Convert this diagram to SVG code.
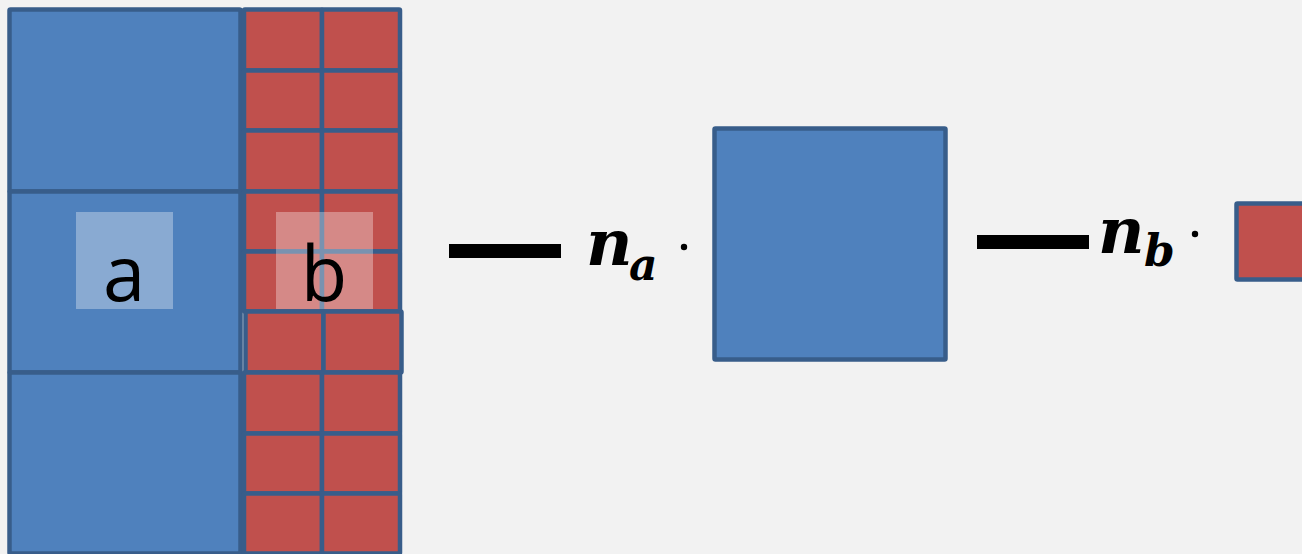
<svg xmlns="http://www.w3.org/2000/svg" width="1302" height="554" viewBox="0 0 1302 554">
<style>
.blue{fill:#4F81BD;stroke:#385D8A;stroke-width:4.5}
.red{fill:#C0504D;stroke:#385D8A;stroke-width:4.5}
.hl{fill:#FFFFFF;fill-opacity:0.33}
.lbl{font-family:"Open Sans","Liberation Sans",sans-serif;font-size:76px;fill:#000;text-anchor:middle}
.m{font-family:"DejaVu Serif","Liberation Serif",serif;font-weight:bold;font-style:italic;fill:#000}
.bar{fill:#000}
</style>
<rect width="1302" height="554" fill="#F2F2F2"/>
<g id="blue-column">
<rect class="blue" x="9.5" y="9.5" width="231" height="182" rx="1"/>
<rect class="blue" x="9.5" y="191.5" width="231" height="181" rx="1"/>
<rect class="blue" x="9.5" y="372.5" width="231" height="181" rx="1"/>
</g>
<g id="red-column">
<rect class="red" x="244" y="9.5" width="78" height="61" rx="1"/>
<rect class="red" x="322" y="9.5" width="78" height="61" rx="1"/>
<rect class="red" x="244" y="70.5" width="78" height="60" rx="1"/>
<rect class="red" x="322" y="70.5" width="78" height="60" rx="1"/>
<rect class="red" x="244" y="130.5" width="78" height="61" rx="1"/>
<rect class="red" x="322" y="130.5" width="78" height="61" rx="1"/>
<rect class="red" x="244" y="191.5" width="78" height="60" rx="1"/>
<rect class="red" x="322" y="191.5" width="78" height="60" rx="1"/>
<rect class="red" x="244" y="251.5" width="78" height="60" rx="1"/>
<rect class="red" x="322" y="251.5" width="78" height="60" rx="1"/>
<rect class="red" x="245.5" y="311.5" width="78" height="61" rx="1"/>
<rect class="red" x="323.5" y="311.5" width="78" height="61" rx="1"/>
<rect class="red" x="244" y="372.5" width="78" height="61" rx="1"/>
<rect class="red" x="322" y="372.5" width="78" height="61" rx="1"/>
<rect class="red" x="244" y="433.5" width="78" height="60" rx="1"/>
<rect class="red" x="322" y="433.5" width="78" height="60" rx="1"/>
<rect class="red" x="244" y="493.5" width="78" height="60" rx="1"/>
<rect class="red" x="322" y="493.5" width="78" height="60" rx="1"/>
</g>
<g id="label-a">
<rect class="hl" x="76" y="212" width="97" height="97"/>
<text class="lbl" x="124" y="301">a</text>
</g>
<g id="label-b">
<rect class="hl" x="276" y="212" width="97" height="97"/>
<text class="lbl" x="324" y="301">b</text>
</g>
<g id="connectors">
<rect class="bar" x="449" y="244" width="112" height="14"/>
<rect class="bar" x="977" y="235" width="112" height="14"/>
</g>
<g id="term-a">
<text class="m" x="586" y="265" font-size="64">n</text>
<text class="m" x="629" y="280" font-size="44">a</text>
<circle cx="684" cy="247" r="3.2" fill="#000"/>
</g>
<g id="blue-square">
<rect class="blue" x="714.5" y="128.5" width="231" height="231" rx="1"/>
</g>
<g id="term-b">
<text class="m" x="1098" y="253" font-size="64">n</text>
<text class="m" x="1144" y="266" font-size="44">b</text>
<circle cx="1195" cy="234" r="3.2" fill="#000"/>
</g>
<g id="red-square">
<rect class="red" x="1236.5" y="203.5" width="78" height="76" rx="1"/>
</g>
</svg>
